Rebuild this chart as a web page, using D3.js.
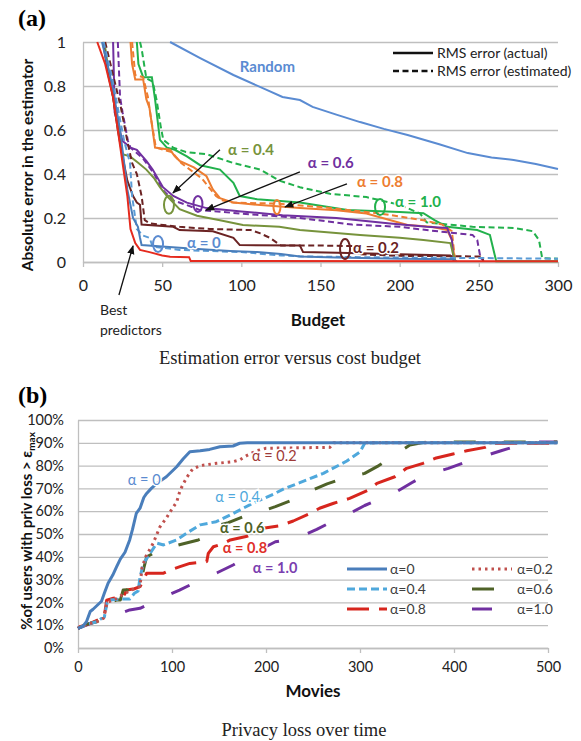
<!DOCTYPE html>
<html>
<head>
<meta charset="utf-8">
<title>Estimation error and privacy loss</title>
<script src="https://cdn.jsdelivr.net/npm/d3@7"></script>
<style>
body{margin:0;background:#fff;}
svg text{font-family:Lato,"Open Sans","DejaVu Sans",sans-serif;}
text.serif{font-family:"Liberation Serif","DejaVu Serif",serif;}
</style>
</head>
<body>
<svg id="fig" width="581" height="741"></svg>
<script>
// ---------- data, chart (a): budget vs absolute error ----------
const budgetTicks = [0,50,100,150,200,250,300];
const errTicks = [0,0.2,0.4,0.6,0.8,1];

const errRandom = [[55,1.0],[74,0.927],[95,0.85],[116,0.782],[126,0.75],[137,0.736],[145,0.705],[160,0.67],[175,0.636],[190,0.605],[205,0.577],[225,0.535],[243,0.495],[258,0.475],[272,0.464],[286,0.445],[300,0.423]];
const errBest = [[9,1.0],[14,0.9],[19,0.75],[22,0.6],[25,0.45],[28,0.3],[30,0.15],[33,0.086],[36,0.055],[42,0.045],[50,0.03],[55,0.024],[67,0.022],[68,0.005],[300,0.003]];
const errA0 = [[12,1.0],[17,0.85],[21,0.7],[23.4,0.6],[26,0.45],[28,0.33],[31.6,0.2],[34.7,0.16],[36,0.11],[37,0.077],[50,0.07],[70,0.06],[93,0.05],[110,0.045],[125,0.036],[137,0.025],[160,0.02],[200,0.015],[234,0.012],[236,0.003]];
const estA0 = [[13,1.0],[18,0.85],[22,0.7],[26,0.55],[29.7,0.45],[31,0.3],[34,0.15],[38,0.12],[42,0.11],[44,0.07],[61,0.055],[80,0.05],[100,0.045],[125,0.03],[140,0.025],[200,0.02],[250,0.018],[300,0.015]];
const errA02 = [[12.6,1.0],[16,0.85],[19,0.75],[22,0.6],[25,0.48],[28,0.37],[31.6,0.3],[34,0.27],[36,0.26],[37,0.17],[57,0.16],[61,0.145],[82,0.14],[95,0.11],[99,0.077],[137,0.075],[139,0.045],[175,0.04],[200,0.035],[232,0.03],[235,0.003]];
const estA02 = [[14,1.0],[19,0.85],[24,0.7],[28,0.55],[31,0.45],[34,0.4],[37,0.3],[39,0.19],[42.4,0.175],[61,0.16],[80,0.15],[106,0.145],[112,0.13],[118,0.11],[125,0.075],[150,0.075],[172,0.072],[175,0.035],[200,0.028],[251,0.025],[253,0.005]];
const errA04 = [[13.5,1.0],[16.5,0.85],[19,0.75],[21,0.66],[25,0.49],[29.7,0.48],[35,0.45],[40,0.42],[45,0.38],[48.6,0.34],[53,0.3],[57,0.27],[61,0.24],[72,0.21],[86.5,0.19],[101,0.168],[124,0.16],[137,0.145],[175,0.123],[200,0.11],[215,0.1],[232,0.086],[235,0.003]];
const errA06 = [[19,1.0],[19.5,0.85],[20,0.68],[25,0.55],[30,0.52],[34,0.51],[40,0.46],[44,0.42],[50.5,0.34],[57,0.3],[65.6,0.27],[78,0.245],[100,0.23],[126,0.212],[160,0.2],[194,0.175],[217,0.16],[230,0.155],[233,0.1],[234,0.003]];
const estA06 = [[22,1.0],[23.4,0.75],[25,0.68],[28.4,0.55],[30,0.52],[38,0.47],[45,0.4],[50,0.33],[57,0.28],[65,0.26],[74,0.236],[100,0.22],[137,0.2],[170,0.17],[200,0.16],[217,0.145],[246,0.123],[249,0.1],[251,0.02],[253,0.005]];
const errA08 = [[30,1.0],[31,0.9],[33,0.83],[38,0.83],[40,0.74],[42,0.7],[44,0.6],[45.5,0.52],[55,0.51],[58,0.48],[61,0.46],[70,0.43],[78,0.39],[82,0.33],[86.5,0.29],[95,0.27],[110,0.26],[137,0.245],[160,0.235],[179,0.22],[205,0.168],[220,0.16],[230,0.145],[233,0.1],[235,0.003]];
const estA08 = [[31,1.0],[33,0.85],[38,0.84],[41,0.75],[43,0.65],[46,0.52],[56,0.5],[62,0.45],[75,0.38],[84,0.3],[88,0.28],[95,0.27],[124,0.265],[150,0.25],[188,0.22],[215,0.19],[227,0.17],[233,0.14],[235,0.003]];
const errA10 = [[34,1.0],[35,0.9],[38,0.84],[43.5,0.84],[45.5,0.74],[47,0.65],[48.6,0.555],[53,0.52],[58,0.51],[65.6,0.48],[74,0.44],[86.5,0.42],[95,0.36],[99,0.3],[110,0.285],[137,0.27],[167,0.236],[200,0.227],[215,0.222],[222,0.19],[230,0.16],[249,0.145],[257,0.123],[261,0.003],[300,0.003]];
const estA10 = [[36,1.0],[37,0.97],[40,0.835],[44,0.82],[46.5,0.736],[49,0.62],[50.7,0.555],[57,0.52],[65,0.5],[78,0.49],[95,0.45],[112,0.42],[124,0.37],[137,0.34],[156,0.31],[179,0.295],[200,0.26],[213,0.22],[217,0.18],[246,0.16],[272,0.155],[284,0.14],[288,0.1],[290,0.018],[300,0.015]];

// ---------- data, chart (b): movies vs % users over the loss limit ----------
const movieTicks = [0,100,200,300,400,500];
const pctTicks = [0,10,20,30,40,50,60,70,80,90,100];

const lossA0 = [[0,8.6],[5,9.5],[9,11.5],[13,16],[16,17],[25,20.5],[28,24],[32,28.4],[37,32],[41,35.6],[45,39],[50,42],[55,47.4],[58,52],[62,59],[66,61.3],[70,66],[73,67.8],[78,70],[84,72.2],[94,75.1],[105,79.5],[112,83],[119,86.1],[130,86.5],[140,87.1],[151,88.3],[165,88.6],[172,89.8],[180,90],[510,90]];
const lossA02 = [[0,8.6],[10,10.5],[20,11.5],[27,13],[31,20],[40,21.5],[50,24],[60,26],[66,27],[68,35],[72,40],[80,46],[84,50],[87,53],[94,57],[100,61],[105,64],[108.5,69],[112,72],[116,75],[122,78.5],[130,80],[147.5,81],[165,81.7],[172,82.5],[180,84.5],[190,86.5],[200,87.6],[268,88],[272,90],[510,90]];
const lossA04 = [[0,8.6],[10,10.5],[20,11.5],[25,13],[28,13.5],[31,20],[34,21],[45,21.5],[55,21.5],[60,24],[64,25],[66,31],[69.5,37],[76.6,41.5],[84,46],[91,45.2],[105,47.4],[118,51],[130,54],[147,55.4],[165,59],[186,63.5],[208,67.5],[220,70],[236,72.5],[261,76.6],[286,82],[300,86],[305,89.8],[320,90],[510,90]];
const lossA06 = [[0,8.6],[10,10.5],[20,11.5],[28,13.5],[33,20],[41,21],[45,21],[48,25.4],[52,25.5],[59,24.7],[66,26.9],[70,35],[73,40],[80,41.5],[87,42.2],[94,43.7],[110,45.5],[128,47.4],[137,48.8],[140,51],[144,53.2],[160,55],[175,57.5],[186.5,59],[194,59.8],[210,62],[232.6,65.6],[250,69.3],[265,72],[282,74.4],[305,76.6],[320,80],[335.5,84.2],[353,89],[370,90.3],[510,90.3]];
const lossA08 = [[0,8.6],[2,9.4],[13,10.8],[23,12.6],[28,14],[30.5,21],[37.6,21.8],[48,22.5],[52,25.4],[60,26],[66,26.9],[70,30],[73,32.8],[91,32.8],[98,34.2],[108.5,35.7],[119,37.1],[137,37.9],[138.6,41.5],[144,44.4],[155,45.9],[162,47.4],[180,49],[197,52.5],[215,53.6],[229,55.7],[247,59],[257,61.3],[272,63.5],[289,65.6],[309,69.3],[318,72.2],[337,75.1],[349.5,78.8],[367,81],[380,83.2],[399,85.1],[413.5,86.5],[433,88],[442,89.8],[510,89.8]];
const lossA10 = [[0,8.6],[23,12.3],[40,14.5],[55,16.7],[66,17.4],[77,19.6],[92,22.5],[108,25.4],[130,29.8],[148,33],[165,36.4],[186,41.5],[210,46.6],[222,47.4],[236,48.8],[254,52],[270,55.4],[289,59],[305,62.5],[323,65.6],[339,68.6],[355,72.5],[370,75.9],[394,78.8],[412,81.5],[430,83.9],[450,86.5],[470,89],[484,90.3],[510,90.3]];

const svg = d3.select("#fig");

// arrow head
svg.append("defs").append("marker")
  .attr("id","arr").attr("viewBox","0 0 10 10").attr("refX",9).attr("refY",5)
  .attr("markerWidth",7).attr("markerHeight",7).attr("orient","auto")
  .append("path").attr("d","M0,1L10,5L0,9Z").attr("fill","#111");

function styleAxis(g, size){
  g.select(".domain").attr("stroke","#bfbfbf").attr("stroke-width",1.3);
  g.selectAll(".tick line").attr("stroke","#bfbfbf").attr("stroke-width",1.3);
  g.selectAll(".tick text").attr("fill","#222").style("font-size",size+"px");
}

// ================= chart (a) =================
const xa = d3.scaleLinear().domain([0,300]).range([83,558]);
const ya = d3.scaleLinear().domain([0,1]).range([262,42]);

svg.append("g").attr("transform","translate(83,0)")
  .call(d3.axisLeft(ya).tickValues(errTicks).tickSize(-475).tickSizeOuter(0).tickPadding(17).tickFormat(d3.format("~g")))
  .call(g => styleAxis(g,16));
svg.append("g").attr("transform","translate(0,262)")
  .call(d3.axisBottom(xa).tickValues(budgetTicks).tickSize(5).tickSizeOuter(0).tickPadding(13))
  .call(g => styleAxis(g,16));

const lineA = d3.line().x(d => xa(d[0])).y(d => ya(d[1]));
const seriesA = [
  {d:errRandom, c:"#5a8bd2"},
  {d:estA10, c:"#22b14c", dash:true},
  {d:errA10, c:"#22b14c"},
  {d:estA08, c:"#ed7d31", dash:true},
  {d:errA08, c:"#ed7d31"},
  {d:estA06, c:"#7030a0", dash:true},
  {d:errA06, c:"#7030a0"},
  {d:errA04, c:"#77933c"},
  {d:estA02, c:"#6b2323", dash:true},
  {d:errA02, c:"#6b2323"},
  {d:estA0, c:"#5b9bd5", dash:true},
  {d:errA0, c:"#4a7ebb"},
  {d:errBest, c:"#e52b1f"}
];
svg.append("g").selectAll("path").data(seriesA).join("path")
  .attr("d", s => lineA(s.d)).attr("fill","none")
  .attr("stroke", s => s.c).attr("stroke-width",2)
  .attr("stroke-dasharray", s => s.dash ? "6,3.5" : null);

// annotations (a)
const ringsA = [
  {c:"#77933c", x:54.3, y:0.26, rx:5, ry:9},
  {c:"#7030a0", x:72.6, y:0.264, rx:4.5, ry:8},
  {c:"#ed7d31", x:122.5, y:0.25, rx:3.5, ry:7},
  {c:"#22b14c", x:187.6, y:0.25, rx:5, ry:8},
  {c:"#5b8bd0", x:47.4, y:0.082, rx:5, ry:8},
  {c:"#6b2323", x:165.5, y:0.059, rx:5, ry:10}
];
svg.append("g").selectAll("ellipse").data(ringsA).join("ellipse")
  .attr("cx", r => xa(r.x)).attr("cy", r => ya(r.y)).attr("rx", r => r.rx).attr("ry", r => r.ry)
  .attr("fill","none").attr("stroke", r => r.c).attr("stroke-width",2);

const arrowsA = [[86.5,0.51,56.8,0.314],[137,0.41,77.7,0.236],[166.7,0.355,127.6,0.25],[22.7,-0.15,31.6,0.073]];
svg.append("g").selectAll("line").data(arrowsA).join("line")
  .attr("x1", a => xa(a[0])).attr("y1", a => ya(a[1])).attr("x2", a => xa(a[2])).attr("y2", a => ya(a[3]))
  .attr("stroke","#111").attr("stroke-width",1.3).attr("marker-end","url(#arr)");

const labelsA = [
  {t:"Random", c:"#5a8bd2", x:99, y:0.886},
  {t:"α = 0.4", c:"#77933c", x:91.6, y:0.51},
  {t:"α = 0.6", c:"#7030a0", x:142, y:0.45},
  {t:"α = 0.8", c:"#ed7d31", x:173, y:0.364},
  {t:"α = 1.0", c:"#22b14c", x:197, y:0.273},
  {t:"α = 0", c:"#5b8bd0", x:65.7, y:0.086},
  {t:"α = 0.2", c:"#6b2323", x:170.5, y:0.064}
];
svg.append("g").selectAll("text").data(labelsA).join("text")
  .attr("x", l => xa(l.x)).attr("y", l => ya(l.y)).attr("dy","0.35em")
  .attr("fill", l => l.c).style("font-size","15px").style("font-weight","bold")
  .attr("stroke","#fff").attr("stroke-width",3).attr("paint-order","stroke")
  .text(l => l.t);

svg.append("text").attr("x", xa(10.7)).attr("y", ya(-0.218)).attr("dy","0.35em")
  .attr("fill","#222").style("font-size","14px").text("Best");
svg.append("text").attr("x", xa(10.7)).attr("y", ya(-0.309)).attr("dy","0.35em")
  .attr("fill","#222").style("font-size","14px").text("predictors");

// legend (a)
const legA = [{t:"RMS error (actual)", dash:null},{t:"RMS error (estimated)", dash:"6,3.5"}];
const lg = svg.append("g").selectAll("g").data(legA).join("g")
  .attr("transform", (d,i) => `translate(393,${53 + i*18})`);
lg.append("line").attr("x1",0).attr("x2",40).attr("stroke","#111").attr("stroke-width",2.5)
  .attr("stroke-dasharray", d => d.dash);
lg.append("text").attr("x",44).attr("dy","0.35em").attr("fill","#222").style("font-size","14px").text(d => d.t);

// titles (a)
svg.append("text").attr("class","serif").attr("x",18).attr("y",26)
  .style("font-size","24px").style("font-weight","bold").text("(a)");
svg.append("text").attr("transform","translate(28,165) rotate(-90)").attr("text-anchor","middle")
  .attr("dy","0.35em").style("font-size","15.5px").style("font-weight","bold").attr("fill","#111")
  .text("Absolute error in the estimator");
svg.append("text").attr("x",318).attr("y",326).attr("text-anchor","middle")
  .style("font-size","17px").style("font-weight","bold").attr("fill","#111").text("Budget");
svg.append("text").attr("class","serif").attr("x",290).attr("y",364).attr("text-anchor","middle")
  .style("font-size","18.5px").attr("fill","#222").text("Estimation error versus cost budget");

// ================= chart (b) =================
const xb = d3.scaleLinear().domain([0,500]).range([78,548]);
const yb = d3.scaleLinear().domain([0,100]).range([648,420]);

svg.append("g").attr("transform","translate(78,0)")
  .call(d3.axisLeft(yb).tickValues(pctTicks).tickSize(-470).tickSizeOuter(0).tickPadding(14).tickFormat(d => d + "%"))
  .call(g => styleAxis(g,14.5));
svg.append("g").attr("transform","translate(0,648)")
  .call(d3.axisBottom(xb).tickValues(movieTicks).tickSize(5).tickSizeOuter(0).tickPadding(9))
  .call(g => styleAxis(g,14.5));

const lineB = d3.line().x(d => xb(d[0])).y(d => yb(d[1]));
const seriesB = [
  {d:lossA10, c:"#7030a0", dash:"20,30", name:"α=1.0"},
  {d:lossA08, c:"#d7261e", dash:"22,10", name:"α=0.8"},
  {d:lossA06, c:"#4f6228", dash:"22,28", name:"α=0.6"},
  {d:lossA04, c:"#4fa8dc", dash:"8,4", name:"α=0.4"},
  {d:lossA02, c:"#c0504d", dash:"2.5,4", name:"α=0.2"},
  {d:lossA0, c:"#4a7ebb", dash:null, name:"α=0"}
];
svg.append("g").selectAll("path").data(seriesB).join("path")
  .attr("d", s => lineB(s.d)).attr("fill","none")
  .attr("stroke", s => s.c).attr("stroke-width",3).attr("stroke-linejoin","round")
  .attr("stroke-dasharray", s => s.dash);

const labelsB = [
  {t:"α = 0", c:"#5b8bd0", x:53, y:73.7, w:"normal"},
  {t:"α = 0.2", c:"#9e3a38", x:185, y:84.2, w:"normal"},
  {t:"α = 0.4", c:"#4fa8dc", x:146, y:66.2, w:"normal"},
  {t:"α = 0.6", c:"#4f6228", x:151, y:52.6, w:"bold"},
  {t:"α = 0.8", c:"#e0302a", x:154, y:43.9, w:"bold"},
  {t:"α = 1.0", c:"#7b3fb0", x:186, y:35.1, w:"bold"}
];
svg.append("g").selectAll("text").data(labelsB).join("text")
  .attr("x", l => xb(l.x)).attr("y", l => yb(l.y)).attr("dy","0.35em")
  .attr("fill", l => l.c).style("font-size","14.5px").style("font-weight", l => l.w)
  .attr("stroke","#fff").attr("stroke-width",3).attr("paint-order","stroke")
  .text(l => l.t);

// legend (b), two columns in the order of the original
const legB = [seriesB[5], seriesB[4], seriesB[3], seriesB[2], seriesB[1], seriesB[0]];
const lb = svg.append("g").selectAll("g").data(legB).join("g")
  .attr("transform", (d,i) => `translate(${i % 2 ? 472 : 347},${569 + Math.floor(i/2)*20})`);
lb.append("line").attr("x1",0).attr("x2",40).attr("stroke", d => d.c).attr("stroke-width",3)
  .attr("stroke-dasharray", d => d.dash);
lb.append("text").attr("x", (d,i) => i % 2 ? 45 : 43).attr("dy","0.35em")
  .attr("fill","#404040").style("font-size","14px").text(d => d.name);

// titles (b)
svg.append("text").attr("class","serif").attr("x",18).attr("y",403)
  .style("font-size","24px").style("font-weight","bold").text("(b)");
const yt = svg.append("text").attr("transform","translate(27,531) rotate(-90)").attr("text-anchor","middle")
  .attr("dy","0.35em").style("font-size","15px").style("font-weight","bold").attr("fill","#111");
yt.append("tspan").text("%of users with priv loss > ε");
yt.append("tspan").attr("dy","3").style("font-size","10px").text("max");
svg.append("text").attr("x",313).attr("y",697).attr("text-anchor","middle")
  .style("font-size","17px").style("font-weight","bold").attr("fill","#111").text("Movies");
svg.append("text").attr("class","serif").attr("x",304).attr("y",736).attr("text-anchor","middle")
  .style("font-size","18.5px").attr("fill","#222").text("Privacy loss over time");
</script>
</body>
</html>
